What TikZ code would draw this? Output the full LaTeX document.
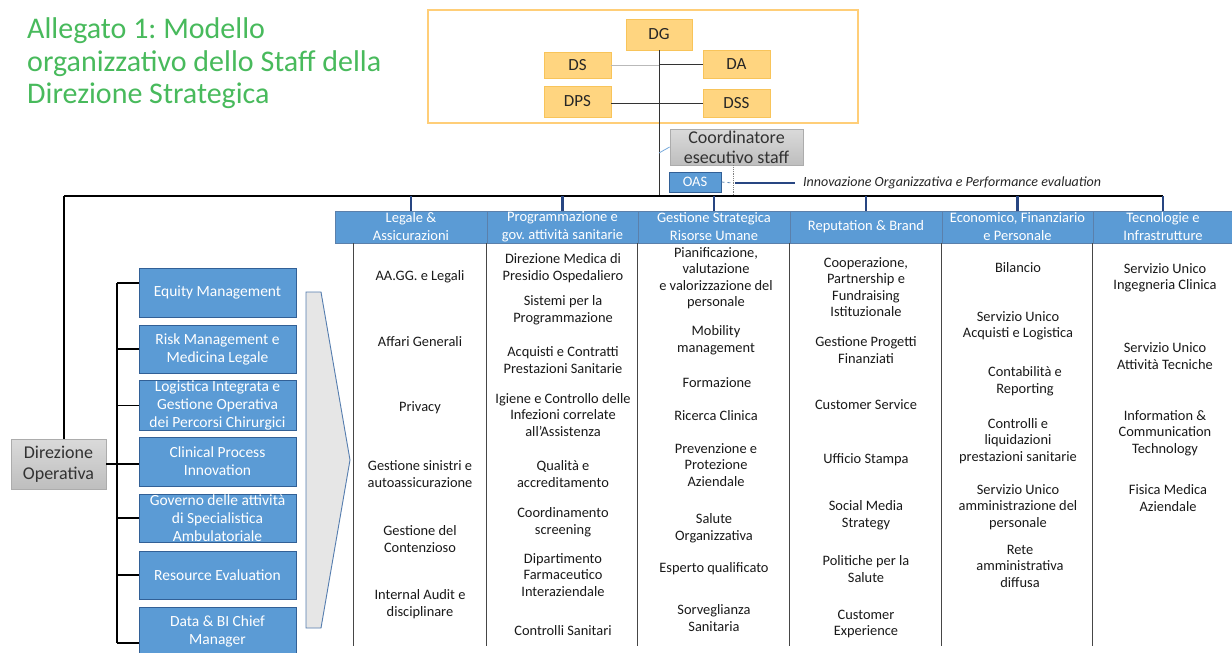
\documentclass[tikz,border=0pt]{standalone}
\usepackage{fontspec}
\setmainfont{Carlito}
\frenchspacing
\definecolor{titlegreen}{RGB}{72,186,92}
\definecolor{orfill}{RGB}{255,213,128}
\definecolor{ordraw}{RGB}{248,196,90}
\definecolor{frameor}{RGB}{255,206,120}
\definecolor{bfill}{RGB}{91,155,213}
\definecolor{bdraw}{RGB}{50,96,150}
\definecolor{navy}{RGB}{40,70,130}
\definecolor{gtop}{RGB}{218,218,218}
\definecolor{gbot}{RGB}{190,190,190}
\definecolor{gdraw}{RGB}{172,172,172}
\definecolor{gtext}{RGB}{50,50,50}
\definecolor{ltblue}{RGB}{120,170,220}
\definecolor{chev}{RGB}{230,230,230}
\definecolor{chevline}{RGB}{85,125,175}
\begin{document}
\frenchspacing
\begin{tikzpicture}[x=1pt,y=-1pt,
  title/.style={inner sep=0pt, text=titlegreen, font=\fontsize{30}{33}\selectfont},
  obox/.style={draw=ordraw, fill=orfill, line width=0.6pt, inner sep=0pt, minimum width=67pt, text=black!85, font=\fontsize{17}{20}\selectfont},
  gbox/.style={draw=gdraw, top color=gtop, bottom color=gbot, line width=0.8pt, inner sep=0pt, align=center, text=gtext},
  bbox/.style={draw=bdraw, fill=bfill, line width=1pt, inner sep=0pt, minimum width=157pt, text=white, align=center, font=\fontsize{15.5}{18}\selectfont},
  hbox/.style={draw=bdraw!80, fill=bfill, line width=0.7pt, inner sep=0pt, minimum height=32pt, text=white, align=center, font=\fontsize{14.5}{18}\selectfont},
  item/.style={align=center, inner sep=0pt, text=black!90, font=\fontsize{14.4}{16.5}\selectfont},
  drop/.style={navy, line width=2.2pt},
  busline/.style={black, line width=1.3pt},
  sepline/.style={gray!55!black, line width=0.8pt},
  thinline/.style={black!80, line width=1pt}
]
\useasboundingbox (0,0) rectangle (1232,653);
\fill[white] (0,0) rectangle (1232,653);

% title
\node[title, anchor=base west] (t1) at (27,38) {Allegato 1: Modello};
\node[title, anchor=base west] (t2) at (27,71) {organizzativo dello Staff della};
\node[title, anchor=base west] (t3) at (27,103) {Direzione Strategica};

% top frame with directors
\node[draw=frameor, line width=1.6pt, minimum width=430pt, minimum height=113pt, inner sep=0pt] (frame) at (643,66.5) {};
\node[obox, minimum width=66pt, minimum height=31pt] (dg) at (659,34.5) {DG};
\node[obox, minimum height=26pt] (ds) at (577.5,65) {DS};
\node[obox, minimum height=28pt] (da) at (736.5,64) {DA};
\node[obox, minimum height=31pt] (dps) at (577.5,101.5) {DPS};
\node[obox, minimum height=28pt] (dss) at (736.5,103) {DSS};

\node[gbox, minimum width=133pt, minimum height=36pt, font=\fontsize{18}{20}\selectfont] (coord) at (736.5,147) {Coordinatore\\esecutivo staff};
\node[draw=bdraw, fill=bfill, line width=1pt, inner sep=0pt, minimum width=52pt, minimum height=20pt, text=white, font=\fontsize{14.5}{15}\selectfont] (oas) at (695,182) {OAS};
\node[anchor=west, inner xsep=8pt, inner ysep=0pt, text=black!85, font=\fontsize{14}{16}\itshape] (inno) at (795,183) {Innovazione Organizzativa e Performance evaluation};

% headers
\node[hbox, minimum width=152pt] (h1) at (411,227) {Legale \&\\Assicurazioni};
\node[hbox, minimum width=151pt] (h2) at (562.5,227) {Programmazione e\\gov. attività sanitarie};
\node[hbox, minimum width=152pt] (h3) at (714,227) {Gestione Strategica\\Risorse Umane};
\node[hbox, minimum width=152pt] (h4) at (866,227) {Reputation \& Brand};
\node[hbox, minimum width=151pt] (h5) at (1017.5,227) {Economico, Finanziario\\e Personale};
\node[hbox, minimum width=140pt] (h6) at (1163,227) {Tecnologie e\\Infrastrutture};

% connectors at top
\coordinate (busL) at (64,196);
\coordinate (tap) at (0,153);
\coordinate (dv) at (733,183);
\coordinate (sepB) at (0,646);
\draw[thinline] (dg.south) -- (dg.south |- busL);
\draw[gray!55, line width=1pt] (ds.east) -- (dg.south |- ds.east);
\draw[thinline] (dg.south |- da.west) -- (da.west);
\draw[thinline] (dps.east |- dss.west) -- (dss.west);
\draw[ltblue, line width=0.8pt] (dg.south |- tap) -- (coord.west);
\draw[ltblue!80!black, line width=0.8pt, dashed] (oas.east) -- (dv);
\draw[gray, line width=0.8pt, densely dotted] (coord.south -| dv) -- (dv |- busL);
\draw[navy, line width=1.5pt] ([xshift=2pt]dv) -- (inno.west);
\draw[busline] (busL) -- (h6.north |- busL);
\foreach \h in {h1,h2,h3,h4,h5,h6} \draw[drop] (\h.north) -- (\h.north |- busL);

% column separators
\draw[sepline] (353,243) -- (353,646);
\foreach \h in {h2,h3,h4,h5,h6} \draw[sepline] (\h.south west) -- (\h.south west |- sepB);

% column 1
\node[item] (c1a) at (420,277) {AA.GG. e Legali};
\node[item] (c1b) at (420,342) {Affari Generali};
\node[item] (c1c) at (420,408) {Privacy};
\node[item] (c1d) at (420,474) {Gestione sinistri e\\autoassicurazione};
\node[item] (c1e) at (420,539) {Gestione del\\Contenzioso};
\node[item] (c1f) at (420,604) {Internal Audit e\\disciplinare};

% column 2
\node[item] (c2a) at (563,268) {Direzione Medica di\\Presidio Ospedaliero};
\node[item] (c2b) at (563,310) {Sistemi per la\\Programmazione};
\node[item] (c2c) at (563,360) {Acquisti e Contratti\\Prestazioni Sanitarie};
\node[item] (c2d) at (563,415) {Igiene e Controllo delle\\Infezioni correlate\\all’Assistenza};
\node[item] (c2e) at (563,474) {Qualità e\\accreditamento};
\node[item] (c2f) at (563,522) {Coordinamento\\screening};
\node[item] (c2g) at (563,575) {Dipartimento\\Farmaceutico\\Interaziendale};
\node[item] (c2h) at (563,631) {Controlli Sanitari};

% column 3
\node[item] (c3a) at (716,278) {Pianificazione,\\valutazione\\e valorizzazione del\\personale};
\node[item] (c3b) at (716,340) {Mobility\\management};
\node[item] (c3c) at (717,383) {Formazione};
\node[item] (c3d) at (716,416) {Ricerca Clinica};
\node[item] (c3e) at (716,465) {Prevenzione e\\Protezione\\Aziendale};
\node[item] (c3f) at (714,528) {Salute\\Organizzativa};
\node[item] (c3g) at (714,569) {Esperto qualificato};
\node[item] (c3h) at (714,618) {Sorveglianza\\Sanitaria};

% column 4
\node[item] (c4a) at (866,287) {Cooperazione,\\Partnership e\\Fundraising\\Istituzionale};
\node[item] (c4b) at (866,350) {Gestione Progetti\\Finanziati};
\node[item] (c4c) at (866,405) {Customer Service};
\node[item] (c4d) at (866,460) {Ufficio Stampa};
\node[item] (c4e) at (866,515) {Social Media\\Strategy};
\node[item] (c4f) at (866,569) {Politiche per la\\Salute};
\node[item] (c4g) at (866,624) {Customer\\Experience};

% column 5
\node[item] (c5a) at (1018,268) {Bilancio};
\node[item] (c5b) at (1018,326) {Servizio Unico\\Acquisti e Logistica};
\node[item] (c5c) at (1025,381) {Contabilità e\\Reporting};
\node[item] (c5d) at (1018,441) {Controlli e\\liquidazioni\\prestazioni sanitarie};
\node[item] (c5e) at (1018,507) {Servizio Unico\\amministrazione del\\personale};
\node[item] (c5f) at (1020,566) {Rete\\amministrativa\\diffusa};

% column 6
\node[item] (c6a) at (1165,278) {Servizio Unico\\Ingegneria Clinica};
\node[item] (c6b) at (1165,356) {Servizio Unico\\Attività Tecniche};
\node[item] (c6c) at (1165,433) {Information \&\\Communication\\Technology};
\node[item] (c6d) at (1168,498) {Fisica Medica\\Aziendale};

% left side
\node[gbox, minimum width=95pt, minimum height=50pt, font=\fontsize{18}{21}\selectfont] (dop) at (58.5,464) {Direzione\\Operativa};
\node[bbox, minimum height=49pt] (b1) at (217.5,292.5) {Equity Management};
\node[bbox, minimum height=48pt] (b2) at (217.5,349) {Risk Management e\\Medicina Legale};
\node[bbox, minimum height=49pt] (b3) at (217.5,405.5) {Logistica Integrata e\\Gestione Operativa\\dei Percorsi Chirurgici};
\node[bbox, minimum height=49pt] (b4) at (217.5,461.5) {Clinical Process\\Innovation};
\node[bbox, minimum height=48pt] (b5) at (217.5,518) {Governo delle attività\\di Specialistica\\Ambulatoriale};
\node[bbox, minimum height=48pt] (b6) at (217.5,575) {Resource Evaluation};
\node[bbox, minimum height=49pt] (b7) at (217.5,631.5) {Data \& BI Chief\\Manager};

\coordinate (brT) at (117,283);
\coordinate (brB) at (117,643);
\draw[busline] (busL) -- (busL |- dop.north);
\draw[busline] (brT) -- (brB);
\draw[busline] (brT) -- (b1.west |- brT);
\foreach \b in {b2,b3,b5,b6} \draw[busline] (\b.west) -- (\b.west -| brT);
\draw[busline] (brB) -- (b7.west |- brB);
\draw[busline] (dop.east) -- (dop.east -| b4.west);

% chevron
\draw[chevline, fill=chev, line width=0.9pt] (306,292) -- (321,292) -- (350,460) -- (321,628) -- (306,628) -- cycle;
\end{tikzpicture}
\end{document}
